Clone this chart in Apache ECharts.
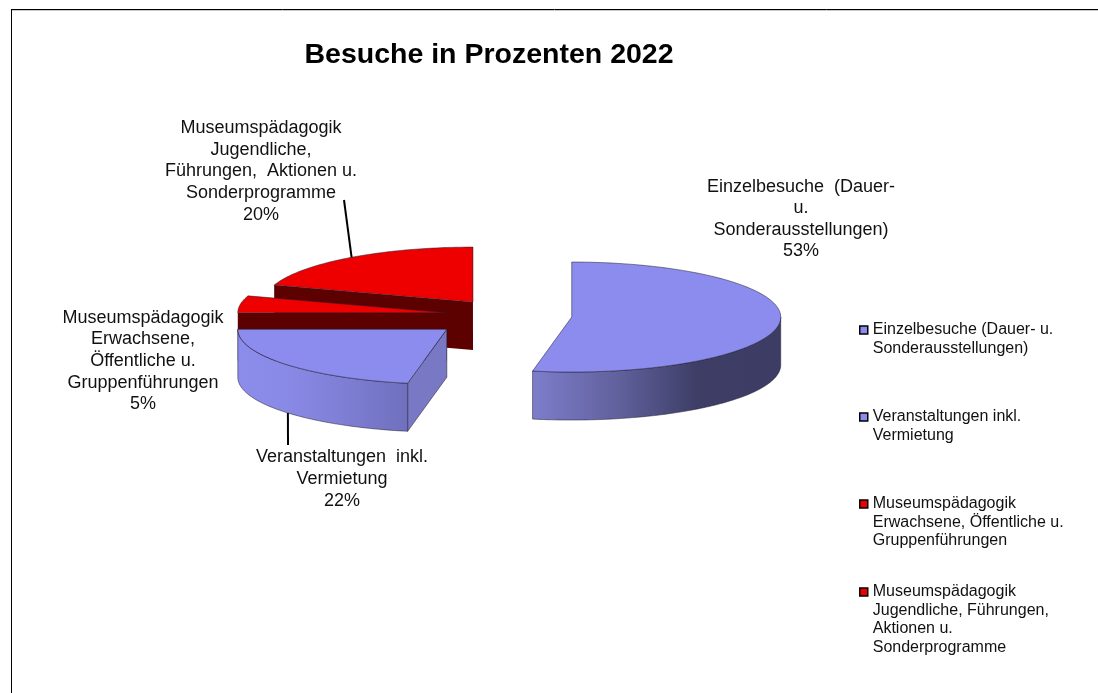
<!DOCTYPE html>
<html>
<head>
<meta charset="utf-8">
<title>Besuche in Prozenten 2022</title>
<style>
  html, body { margin: 0; background: #fff; }
  #main { width: 1098px; height: 693px; }
</style>
<script src="https://cdn.jsdelivr.net/npm/echarts@6/dist/echarts.min.js"></script>
</head>
<body>
<div id="main"></div>
<script>
const categories = [
  'Einzelbesuche (Dauer- u. Sonderausstellungen)',
  'Veranstaltungen inkl. Vermietung',
  'Museumspädagogik Erwachsene, Öffentliche u. Gruppenführungen',
  'Museumspädagogik Jugendliche, Führungen, Aktionen u. Sonderprogramme'
];
const percents = [53, 22, 5, 20];
const legendLines = [
  ['Einzelbesuche (Dauer- u.', 'Sonderausstellungen)'],
  ['Veranstaltungen inkl.', 'Vermietung'],
  ['Museumspädagogik', 'Erwachsene, Öffentliche u.', 'Gruppenführungen'],
  ['Museumspädagogik', 'Jugendliche, Führungen,', 'Aktionen u.', 'Sonderprogramme']
];
const labelLines = [
  ['Einzelbesuche  (Dauer-', 'u.', 'Sonderausstellungen)'],
  ['Veranstaltungen  inkl.', 'Vermietung'],
  ['Museumspädagogik', 'Erwachsene,', 'Öffentliche u.', 'Gruppenführungen'],
  ['Museumspädagogik', 'Jugendliche,', 'Führungen,  Aktionen u.', 'Sonderprogramme']
];
const explode = [62, 82, 64, 63];

// pie layout, tilted ellipse
const CX = 510, CY = 315.5, RX = 209, RY = 55, DEPTH = 48;
const labelPos = [[801, 219], [342, 479], [143, 361], [261, 171.5]];
const leaderAngle = [null, 229.5, null, 324.5];
const leaderEnd = [null, [288, 445], null, [344, 200]];
const legendTop = [330, 417, 504, 592];
const LEGEND_LH = 18.4;

const BLUE = '#8c8cee', RED = '#ee0000';
const topColors = [BLUE, BLUE, RED, RED];
const sideColors = ['#7878c4', '#7878c4', '#5c0000', '#5c0000'];
const rimStops = [
  [[0, '#7d7dcb'], [0.33, '#62629f'], [0.67, '#3d3d66'], [1, '#3c3c64']],
  [[0, '#8c8cec'], [0.35, '#8888e4'], [1, '#7070be']],
  null,
  null
];

const total = percents.reduce((a, b) => a + b, 0);
const rad = d => d * Math.PI / 180;

function renderSlice(params, api) {
  const i = params.seriesIndex;
  const sum = percents.slice(0, i).reduce((a, b) => a + b, 0);
  const a0 = sum / total * 360;
  const a1 = (sum + api.value(0)) / total * 360;
  const mid = (a0 + a1) / 2;
  // apex moved out along the middle of the slice
  const ox = CX + explode[i] * Math.sin(rad(mid));
  const oy = CY - explode[i] * Math.cos(rad(mid)) * RY / RX;
  const pt = (deg, dz) => [ox + RX * Math.sin(rad(deg)), oy - RY * Math.cos(rad(deg)) + (dz || 0)];
  const arc = (from, to, dz) => {
    const out = [];
    const n = Math.max(2, Math.ceil(Math.abs(to - from)));
    for (let k = 0; k <= n; k++) out.push(pt(from + (to - from) * k / n, dz));
    return out;
  };
  const edge = { stroke: 'rgba(30,30,50,0.75)', lineWidth: 0.7 };
  const kids = [];

  const wall = deg => ({
    type: 'polygon',
    shape: { points: [[ox, oy], pt(deg), pt(deg, DEPTH), [ox, oy + DEPTH]] },
    style: i < 2 ? { fill: sideColors[i], ...edge } : { fill: sideColors[i] }
  });
  if (Math.sin(rad(a0)) < -1e-6) kids.push(wall(a0));
  if (Math.sin(rad(a1)) > 1e-6) kids.push(wall(a1));

  // outer wall, only the half facing the viewer
  const r0 = Math.max(a0, 90), r1 = Math.min(a1, 270);
  if (r1 > r0) {
    kids.push({
      type: 'polygon',
      shape: { points: arc(r0, r1).concat(arc(r1, r0, DEPTH)) },
      style: {
        // stops run left to right on screen
        fill: new echarts.graphic.LinearGradient(0, 0, 1, 0,
          rimStops[i].map(s => ({ offset: s[0], color: s[1] }))),
        ...edge
      }
    });
  }

  kids.push({
    type: 'polygon',
    shape: { points: [[ox, oy]].concat(arc(a0, a1)) },
    style: { fill: topColors[i], ...edge }
  });

  if (leaderEnd[i]) {
    const p = pt(leaderAngle[i], Math.cos(rad(leaderAngle[i])) < 0 ? DEPTH : 0);
    kids.push({
      type: 'line',
      shape: { x1: p[0], y1: p[1], x2: leaderEnd[i][0], y2: leaderEnd[i][1] },
      style: { stroke: '#000', lineWidth: 2 }
    });
  }

  kids.push({
    type: 'text',
    style: {
      text: labelLines[i].concat(percents[i] + '%').join('\n'),
      x: labelPos[i][0],
      y: labelPos[i][1],
      align: 'center',
      verticalAlign: 'middle',
      font: '18px "Liberation Sans"',
      lineHeight: 21.6,
      fill: '#111'
    }
  });

  return { type: 'group', children: kids };
}

const chart = echarts.init(document.getElementById('main'), null, { renderer: 'canvas' });

chart.setOption({
  animation: false,
  backgroundColor: '#fff',
  title: {
    text: 'Besuche in Prozenten 2022',
    left: 484,
    top: 36,
    textAlign: 'center',
    textStyle: { fontFamily: 'Liberation Sans', fontSize: 28.5, fontWeight: 'bold', color: '#000' }
  },
  // one legend per entry: pitch is even and the square sits on the first line
  legend: categories.map((name, i) => {
    const extra = legendLines[i].length - 1;
    return {
      data: [name],
      orient: 'vertical',
      left: 859,
      top: legendTop[i] - (extra + 0.5) * LEGEND_LH,
      padding: 0,
      icon: 'rect',
      itemWidth: 8,
      itemHeight: 8,
      selectedMode: false,
      itemStyle: { borderColor: '#000', borderWidth: 1.5 },
      formatter: () => '\n'.repeat(extra) + legendLines[i].join('\n'),
      textStyle: { fontFamily: 'Liberation Sans', fontSize: 16, lineHeight: LEGEND_LH, color: '#111' }
    };
  }),
  series: categories.map((name, i) => ({
    type: 'custom',
    name: name,
    coordinateSystem: 'none',
    silent: true,
    // back slices first
    z: [4, 3, 2, 1][i],
    itemStyle: { color: topColors[i] },
    data: [[percents[i]]],
    renderItem: renderSlice
  })),
  graphic: [
    { type: 'line', shape: { x1: 11, y1: 10.5, x2: 1098, y2: 10.5 }, style: { stroke: '#c8c8c8', lineWidth: 1 } },
    { type: 'line', shape: { x1: 11, y1: 9.5, x2: 1098, y2: 9.5 }, style: { stroke: '#000', lineWidth: 1 } },
    { type: 'line', shape: { x1: 11.5, y1: 9, x2: 11.5, y2: 693 }, style: { stroke: '#000', lineWidth: 1 } }
  ]
});
</script>
</body>
</html>
